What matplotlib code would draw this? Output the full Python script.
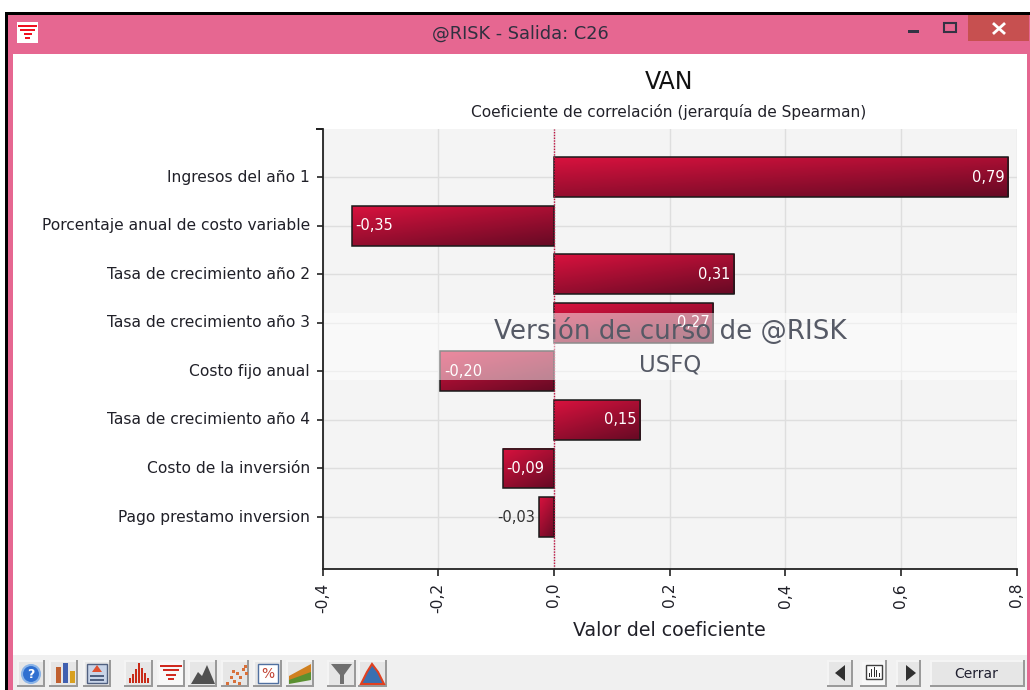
import numpy as np
import matplotlib
matplotlib.use("Agg")
import matplotlib.pyplot as plt
from matplotlib.patches import Rectangle, Polygon, Circle

categories = ["Ingresos del año 1", "Porcentaje anual de costo variable",
              "Tasa de crecimiento año 2", "Tasa de crecimiento año 3",
              "Costo fijo anual", "Tasa de crecimiento año 4",
              "Costo de la inversión", "Pago prestamo inversion"]
values = [0.786, -0.349, 0.312, 0.276, -0.196, 0.149, -0.088, -0.026]
value_labels = ["0,79", "-0,35", "0,31", "0,27", "-0,20", "0,15", "-0,09", "-0,03"]
x_ticks = [-0.4, -0.2, 0.0, 0.2, 0.4, 0.6, 0.8]
x_tick_labels = ["-0,4", "-0,2", "0,0", "0,2", "0,4", "0,6", "0,8"]

W, H = 1030, 690
plt.rcParams['font.family'] = ['DejaVu Sans']
fig = plt.figure(figsize=(W / 100, H / 100), dpi=100, facecolor="white")

# Window chrome, in pixel coordinates
c = fig.add_axes([0, 0, 1, 1], zorder=-1)
c.set_xlim(0, W); c.set_ylim(H, 0); c.axis("off")
PINK = "#e66791"
def rect(x0, y0, x1, y1, fc, ec="none", lw=0, z=1):
    c.add_patch(Rectangle((x0, y0), x1 - x0, y1 - y0, fc=fc, ec=ec, lw=lw, zorder=z))
rect(5, 12, 1030, 690, PINK)
rect(5, 12, 8, 690, "#000000", z=2)
rect(5, 12, 1030, 15, "#000000", z=2)
rect(13, 54, 1027, 690, "white", z=2)
rect(13, 655, 1027, 690, "#f0f0f0", z=2)
rect(968, 15, 1029, 41, "#c75050", z=3)
c.plot([994, 1004], [24, 33], color="white", lw=2, zorder=4)
c.plot([994, 1004], [33, 24], color="white", lw=2, zorder=4)
rect(908, 30, 919, 33, "#333344", z=4)
rect(944, 23, 956, 32, PINK, ec="#333344", lw=1.5, z=4)
rect(17, 22, 38, 43, "white", z=3)
for y, a, b in [(26, 18, 37), (30, 20, 35), (34, 24, 32), (38, 25, 30)]:
    rect(a, y - 1, b, y + 1, "#f01020", z=4)
fig.text(520 / W, 1 - 34 / H, "@RISK - Salida: C26", ha="center", va="center",
         fontsize=12.8, color="#303040")

# Axis-top tick beside the plot
rect(316, 128, 323, 130, "#222222", z=3)

# Toolbar buttons
btns = [(17, 45), (49, 78), (83, 111), (124, 153), (157, 185), (188, 217),
        (221, 249), (253, 282), (286, 314), (327, 356), (358, 387),
        (827, 853), (860, 887), (896, 921), (930, 1025)]
for i, (a, b) in enumerate(btns):
    rect(a, 660, b, 687, "#9a9a9a", z=3)
    rect(a, 660, b - 2, 685, "#f4f4f4", z=3)
    rect(a + 2, 662, b - 2, 685, "#e6e6e6", z=3)
rect(159, 662, 183, 685, "#f8f8f8", z=3)
rect(862, 662, 885, 685, "#f8f8f8", z=3)
c.add_patch(Circle((31, 674), 9, fc="#2f6fd0", ec="#8ab4e8", lw=1.5, zorder=5))
c.text(31, 674, "?", color="white", fontsize=9, fontweight="bold", ha="center", va="center", zorder=6)
for xx, hh, col in [(56, 16, "#c06030"), (63, 20, "#4060b0"), (70, 12, "#d8a020")]:
    rect(xx, 683 - hh, xx + 5, 683, col, z=5)
rect(87, 664, 107, 683, "#c8d4e8", ec="#506080", lw=1, z=5)
c.add_patch(Polygon([[92, 672], [102, 672], [97, 665]], fc="#e05030", zorder=6))
rect(90, 675, 104, 677, "#506080", z=6); rect(90, 679, 104, 681, "#506080", z=6)
for k, hh in enumerate([5, 9, 14, 20, 15, 10, 5]):
    rect(129 + k * 3, 683 - hh, 131 + k * 3, 683, "#c82a18", z=5)
for y, a, b in [(666, 160, 182), (670, 163, 179), (675, 166, 176), (679, 168, 174)]:
    rect(a, y - 1, b, y + 1, "#d02a20", z=5)
c.add_patch(Polygon([[191, 684], [198, 672], [202, 676], [207, 665], [215, 684]], fc="#505050", zorder=5))
for (px, py) in [(226, 682), (230, 676), (233, 680), (236, 672), (239, 676), (242, 668), (245, 672), (238, 682), (244, 665), (232, 670)]:
    rect(px, py, px + 3, py + 3, "#d8703a", z=5)
rect(258, 664, 278, 683, "white", ec="#5070a0", lw=1, z=5)
c.text(268, 674, "%", color="#c04030", fontsize=10, ha="center", va="center", zorder=6)
c.add_patch(Polygon([[289, 682], [289, 676], [311, 664], [311, 678]], fc="#d08020", zorder=5))
c.add_patch(Polygon([[289, 684], [289, 680], [311, 672], [311, 680]], fc="#5a9030", zorder=6))
c.add_patch(Polygon([[331, 664], [352, 664], [344, 675], [344, 684], [340, 684], [340, 675]], fc="#707070", zorder=5))
c.add_patch(Polygon([[361, 684], [367, 672], [372, 664], [378, 672], [384, 684]], fc="#3a70b0", ec="#e04020", lw=1.5, zorder=5))
c.add_patch(Polygon([[845, 665], [845, 681], [835, 673]], fc="#303030", zorder=5))
c.add_patch(Polygon([[906, 665], [906, 681], [916, 673]], fc="#303030", zorder=5))
rect(866, 665, 882, 679, "white", ec="#404040", lw=1, z=5)
for k, hh in enumerate([4, 8, 10, 7, 4]):
    rect(869 + k * 2.4, 677 - hh, 870 + k * 2.4, 677, "#303030", z=6)
c.text(976, 674, "Cerrar", fontsize=10, color="#202030", ha="center", va="center", zorder=5)

# Plot area in pixels
ax = fig.add_axes([322.5 / W, 1 - 569 / H, 694 / W, (569 - 129) / H], zorder=1)
ax.set_facecolor("#f4f4f4")
ax.set_xlim(-0.4, 0.8)
ax.set_ylim(8.07, -0.99)
ys = np.arange(len(categories))
ax.grid(True, color="#dedede", lw=1)
ax.set_axisbelow(True)

grad_x, grad_y = np.meshgrid(np.linspace(0, 1, 120), np.linspace(0, 1, 40))
t = (0.4 * grad_x + 0.6 * grad_y)[..., None]
c0 = np.array([0xd8, 0x12, 0x3e]) / 255
c1 = np.array([0x66, 0x0a, 0x24]) / 255
img = c0 * (1 - t) + c1 * t

bh = 0.82
bars = ax.barh(ys, values, height=bh, facecolor="none", edgecolor="#1a1a1a", lw=1.1, zorder=3)
for b in bars:
    x0, y0, w, h = b.get_x(), b.get_y(), b.get_width(), b.get_height()
    ax.imshow(img, extent=(min(x0, x0 + w), max(x0, x0 + w), y0 + h, y0),
              aspect="auto", zorder=2.5)
ax.set_xlim(-0.4, 0.8)
ax.set_ylim(8.07, -0.99)
ax.axvline(0, color="#c01040", lw=1, ls=(0, (1, 1)), zorder=4)

for y, v, s in zip(ys, values, value_labels):
    if abs(v) < 0.05:
        ax.annotate(s, (v, y), xytext=(-3, 0), textcoords="offset points", ha="right",
                    va="center", color="#303030", fontsize=10.5, zorder=5)
    elif v > 0:
        ax.annotate(s, (v, y), xytext=(-2.5, 0), textcoords="offset points", ha="right",
                    va="center", color="white", fontsize=10.5, zorder=5)
    else:
        ax.annotate(s, (v, y), xytext=(2.5, 0), textcoords="offset points", ha="left",
                    va="center", color="white", fontsize=10.5, zorder=5)

# Watermark band over the bars
y_lo = (313 - 129) / (569 - 129)
y_hi = (380 - 129) / (569 - 129)
ax.axhspan(-0.99 + y_lo * 9.06, -0.99 + y_hi * 9.06, fc="white", alpha=0.5, lw=0, zorder=6)
fig.text(670 / W, 1 - 331 / H, "Versión de curso de @RISK", ha="center", va="center",
         fontsize=18.8, color="#565a66", zorder=10)
fig.text(670 / W, 1 - 365 / H, "USFQ", ha="center", va="center",
         fontsize=16.5, color="#565a66", zorder=10)

ax.set_yticks(ys)
ax.set_yticklabels(categories, fontsize=11.2, color="#202028", va="center")
ax.set_xticks(x_ticks)
ax.set_xticklabels(x_tick_labels, rotation=90, fontsize=11.2, color="#202028")
ax.tick_params(axis="y", length=4, width=1.2, pad=5, color="#222222")
ax.tick_params(axis="x", length=5, width=1.2, pad=5, color="#222222")
for s in ("top", "right"):
    ax.spines[s].set_visible(False)
for s in ("left", "bottom"):
    ax.spines[s].set_linewidth(1.3)
    ax.spines[s].set_color("#222222")
    ax.spines[s].set_zorder(7)

fig.text(669 / W, 1 - 82 / H, "VAN", ha="center", va="center", fontsize=17, color="#111111")
fig.text(669 / W, 1 - 112 / H, "Coeficiente de correlación (jerarquía de Spearman)",
         ha="center", va="center", fontsize=11.1, color="#202028")
fig.text(669 / W, 1 - 631 / H, "Valor del coeficiente", ha="center", va="center",
         fontsize=13.7, color="#202028")

fig.savefig("out.png", dpi=100)
